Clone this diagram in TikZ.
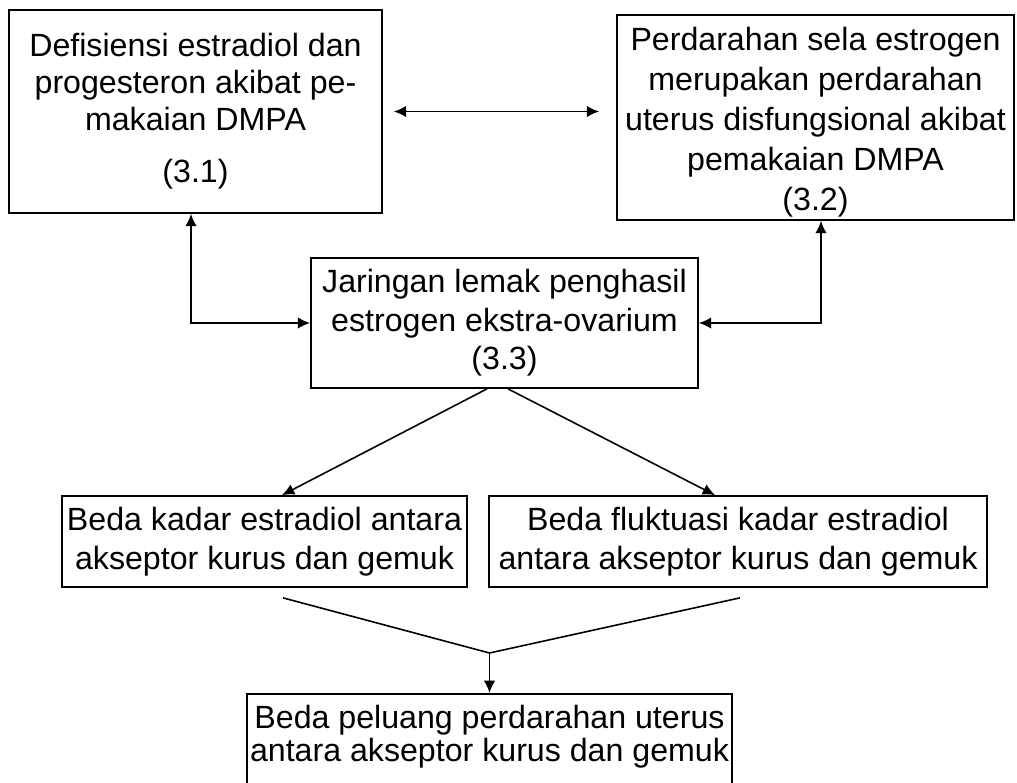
\documentclass[tikz,border=0pt]{standalone}
\usepackage{fontspec}
\setmainfont{Liberation Sans}
\usetikzlibrary{shapes,arrows.meta,positioning,calc}

\begin{document}
\begin{tikzpicture}[x=0.02cm, y=-0.02cm,
    box/.style={rectangle, draw, line width=1pt, align=center, inner sep=0pt,
        font=\fontsize{18.3}{21}\selectfont},
    link/.style={line width=0.9pt, -{Latex[length=7pt, width=6.5pt]}},
    dlink/.style={line width=0.9pt, {Latex[length=7pt, width=6.5pt]}-{Latex[length=7pt, width=6.5pt]}}]
    \useasboundingbox (0,0) rectangle (1017,783);

    % boxes
    \node[box, minimum width=7.46cm, minimum height=4.06cm] (defisiensi) at (195.5,111.5)
        {Defisiensi estradiol dan\\ progesteron akibat pe-\\ makaian DMPA\\[8.6pt] (3.1)};
    \node[box, minimum width=7.94cm, minimum height=4.1cm] (perdarahan) at (815.5,117.5)
        {\rule{0pt}{19pt}Perdarahan sela estrogen\\[1.8pt] merupakan perdarahan\\[1.8pt] uterus disfungsional akibat\\[1.8pt] pemakaian DMPA\\[1.8pt] (3.2)};
    \node[box, minimum width=7.74cm, minimum height=2.6cm] (lemak) at (504.5,323)
        {Jaringan lemak penghasil\\[1pt] estrogen ekstra-ovarium\\[1pt] (3.3)};
    \node[box, minimum width=8.1cm, minimum height=1.82cm] (kadar) at (264.5,541.5)
        {Beda kadar estradiol antara\\[1.5pt] akseptor kurus dan gemuk};
    \node[box, minimum width=9.96cm, minimum height=1.82cm] (fluktuasi) at (738,541.5)
        {Beda fluktuasi kadar estradiol\\[1.5pt] antara akseptor kurus dan gemuk};
    \node[box, anchor=north, minimum width=9.7cm, inner ysep=6.4pt, text depth=40pt] (peluang) at (489.5,693)
        {Beda peluang perdarahan uterus\\[-2.2pt] antara akseptor kurus dan gemuk};

    % connectors
    \draw[dlink, shorten <=0.22cm, shorten >=0.34cm] (defisiensi.east) -- (defisiensi.east -| perdarahan.west);
    \draw[dlink] ([xshift=-0.09cm]defisiensi.south) |- (lemak.west);
    \draw[dlink] ([xshift=0.11cm]perdarahan.south) |- (lemak.east);
    \draw[link] ([xshift=-0.35cm]lemak.south) -- ([xshift=0.35cm]kadar.north);
    \draw[link] ([xshift=0.07cm]lemak.south) -- ([xshift=-0.46cm]fluktuasi.north);

    \coordinate (gabung) at ($(peluang.north)+(0,-40)$);
    \draw[line width=0.9pt] ([xshift=0.37cm, yshift=-0.2cm]kadar.south) -- (gabung)
        -- ([xshift=0.04cm, yshift=-0.2cm]fluktuasi.south);
    \draw[link] (gabung) -- (peluang.north);
\end{tikzpicture}
\end{document}
